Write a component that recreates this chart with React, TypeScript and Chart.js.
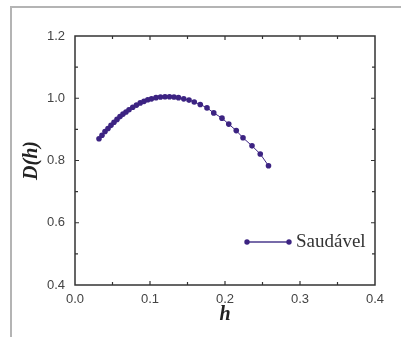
import React, { useEffect, useRef } from "react";
import { Chart, registerables } from "chart.js";

Chart.register(...registerables);

const hValues = [
  0.032, 0.036, 0.040, 0.044, 0.048, 0.052, 0.056, 0.060, 0.064, 0.068,
  0.072, 0.077, 0.082, 0.087, 0.092, 0.097, 0.102, 0.108, 0.114, 0.120,
  0.126, 0.132, 0.138, 0.145, 0.152, 0.159, 0.167, 0.176, 0.185, 0.196,
  0.205, 0.215, 0.224, 0.236, 0.247, 0.258,
];
const dValues = [
  0.870, 0.881, 0.893, 0.903, 0.913, 0.923, 0.932, 0.941, 0.949, 0.956,
  0.963, 0.971, 0.978, 0.985, 0.990, 0.995, 0.998, 1.002, 1.004, 1.005,
  1.005, 1.004, 1.002, 0.998, 0.994, 0.988, 0.980, 0.969, 0.953, 0.936,
  0.917, 0.896, 0.873, 0.847, 0.821, 0.783,
];
const seriesLabel = "Saudável";
const xTickLabels = ["0.0", "0.1", "0.2", "0.3", "0.4"];
const yTickLabels = ["0.4", "0.6", "0.8", "1.0", "1.2"];
const xMajor = [0.1, 0.2, 0.3];
const xMinor = [0.05, 0.15, 0.25, 0.35];
const yMajor = [0.6, 0.8, 1.0];
const yMinor = [0.5, 0.7, 0.9, 1.1];

const PURPLE = "#3c2382";

const decorPlugin = {
  id: "decor",
  beforeDraw(chart: any) {
    const ctx = chart.ctx;
    ctx.save();
    ctx.strokeStyle = "#b4b4b4";
    ctx.lineWidth = 2;
    ctx.strokeRect(11, 7, 600, 600);
    ctx.restore();
  },
  afterDraw(chart: any) {
    const ctx = chart.ctx;
    const a = chart.chartArea;
    const xs = chart.scales.x;
    const ys = chart.scales.y;
    ctx.save();
    ctx.strokeStyle = "#333";
    ctx.lineWidth = 1.5;
    ctx.strokeRect(a.left, a.top, a.right - a.left, a.bottom - a.top);
    ctx.lineWidth = 1.2;
    const tick = (vals: number[], len: number) => {
      vals.forEach((v) => {
        const px = xs.getPixelForValue(v);
        ctx.beginPath();
        ctx.moveTo(px, a.bottom);
        ctx.lineTo(px, a.bottom - len);
        ctx.moveTo(px, a.top);
        ctx.lineTo(px, a.top + len);
        ctx.stroke();
      });
    };
    const ytick = (vals: number[], len: number) => {
      vals.forEach((v) => {
        const py = ys.getPixelForValue(v);
        ctx.beginPath();
        ctx.moveTo(a.left, py);
        ctx.lineTo(a.left + len, py);
        ctx.moveTo(a.right, py);
        ctx.lineTo(a.right - len, py);
        ctx.stroke();
      });
    };
    tick(xMajor, 4);
    tick(xMinor, 3);
    ytick(yMajor, 4);
    ytick(yMinor, 3);

    // legend
    const ly = a.bottom - 43;
    const lx1 = a.right - 128;
    const lx2 = a.right - 86;
    ctx.strokeStyle = "#4a3a8c";
    ctx.lineWidth = 1.3;
    ctx.beginPath();
    ctx.moveTo(lx1, ly);
    ctx.lineTo(lx2, ly);
    ctx.stroke();
    ctx.fillStyle = PURPLE;
    [lx1, lx2].forEach((x) => {
      ctx.beginPath();
      ctx.arc(x, ly, 2.7, 0, Math.PI * 2);
      ctx.fill();
    });
    ctx.fillStyle = "#333";
    ctx.font = "19px 'Liberation Serif', serif";
    ctx.textAlign = "left";
    ctx.textBaseline = "middle";
    ctx.fillText(seriesLabel, a.right - 79, ly);
    ctx.restore();
  },
};

export default function App() {
  const ref = useRef<HTMLCanvasElement>(null);
  useEffect(() => {
    document.body.style.margin = "0";
    const canvas = ref.current!;
    const chart = new Chart(canvas, {
      type: "scatter",
      data: {
        datasets: [
          {
            label: seriesLabel,
            data: hValues.map((h, i) => ({ x: h, y: dValues[i] })),
            showLine: true,
            borderColor: PURPLE,
            borderWidth: 1,
            backgroundColor: PURPLE,
            pointBackgroundColor: PURPLE,
            pointBorderWidth: 0,
            pointRadius: 2.8,
          },
        ],
      },
      options: {
        animation: false,
        responsive: false,
        maintainAspectRatio: false,
        events: [],
        layout: { padding: { left: 0, top: 36, right: 26, bottom: 0 } },
        plugins: { legend: { display: false }, tooltip: { enabled: false } },
        scales: {
          x: {
            type: "linear",
            min: 0,
            max: 0.4,
            grid: { display: false, drawTicks: false },
            border: { display: false },
            ticks: {
              stepSize: 0.1,
              padding: 7,
              color: "#444",
              font: { family: "'Liberation Sans', Arial, sans-serif", size: 13 },
              callback: (_v: any, i: number) => xTickLabels[i],
            },
            title: {
              display: true,
              text: "h",
              color: "#222",
              font: { family: "'Liberation Serif', serif", size: 20, weight: "bold", style: "italic" },
              padding: { top: 0, bottom: 10 },
            },
            afterFit: (s: any) => {
              s.height = 52;
            },
          },
          y: {
            type: "linear",
            min: 0.4,
            max: 1.2,
            grid: { display: false, drawTicks: false },
            border: { display: false },
            ticks: {
              stepSize: 0.2,
              padding: 10,
              color: "#444",
              font: { family: "'Liberation Sans', Arial, sans-serif", size: 13 },
              callback: (_v: any, i: number) => yTickLabels[i],
            },
            title: {
              display: true,
              text: "D(h)",
              color: "#222",
              font: { family: "'Liberation Serif', serif", size: 20, weight: "bold", style: "italic" },
              padding: { top: 20, bottom: 0 },
            },
            afterFit: (s: any) => {
              s.width = 75;
            },
          },
        },
      } as any,
      plugins: [decorPlugin],
    });
    return () => chart.destroy();
  }, []);
  return (
    <canvas
      ref={ref}
      width={401}
      height={337}
      style={{ display: "block", width: 401, height: 337, background: "#fff" }}
    />
  );
}
